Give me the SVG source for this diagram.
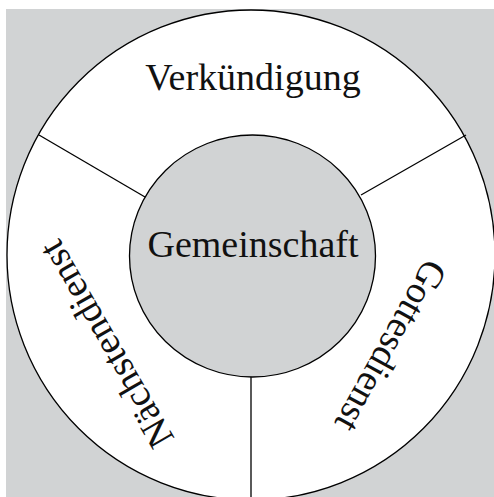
<svg xmlns="http://www.w3.org/2000/svg" width="494" height="497" viewBox="0 0 494 497">
<style>
.ln{stroke:#000;stroke-width:1.3;fill:none}
.t{font-family:"Liberation Serif","DejaVu Serif",serif;font-size:38px;fill:#111;text-anchor:middle}
</style>
<rect x="0" y="0" width="494" height="497" fill="#fff"/>
<rect x="6" y="9" width="488" height="488" fill="#d1d3d4"/>
<g id="ring">
<ellipse cx="251" cy="255" rx="244" ry="245" fill="#fff" stroke="#000" stroke-width="1.3"/>
</g>
<g id="connectors">
<line class="ln" x1="39" y1="135" x2="145" y2="197"/>
<line class="ln" x1="466" y1="135" x2="361" y2="195"/>
<line class="ln" x1="251" y1="377" x2="251" y2="497"/>
</g>
<g id="gemeinschaft">
<ellipse cx="252.5" cy="256" rx="123" ry="121" fill="#d1d3d4" stroke="#000" stroke-width="1.3"/>
<text class="t" x="253" y="257">Gemeinschaft</text>
</g>
<g id="verkuendigung">
<text class="t" x="253" y="90">Verkündigung</text>
</g>
<g id="gottesdienst">
<text class="t" transform="translate(380,340) rotate(119)">Gottesdienst</text>
</g>
<g id="naechstendienst">
<text class="t" transform="translate(117,338) rotate(240)">Nächstendienst</text>
</g>
</svg>
